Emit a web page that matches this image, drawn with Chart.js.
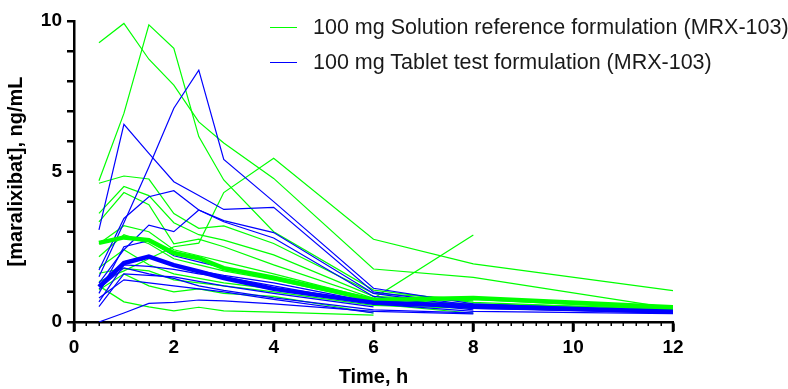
<!DOCTYPE html>
<html>
<head>
<meta charset="utf-8">
<script src="https://cdn.jsdelivr.net/npm/chart.js@4.4.1/dist/chart.umd.min.js"></script>
<style>
  html, body { margin: 0; padding: 0; background: #fff; }
  #wrap { position: relative; width: 788px; height: 389px; }
  #legend { position: absolute; left: 270px; top: 10px; font-family: Arial, "Liberation Sans", sans-serif; font-size: 21.5px; color: #1a1a1a; white-space: nowrap; }
  #legend div { display: flex; align-items: center; height: 35px; }
  #legend span.sw { display: inline-block; width: 27px; height: 0; border-top: 1.3px solid; margin-right: 16px; }
</style>
</head>
<body>
<div id="wrap">
  <canvas id="pkChart" width="788" height="389"></canvas>
  <div id="legend"></div>
</div>
<script>
// sampling times (h)
const timePoints = [0.5, 1, 1.5, 2, 2.5, 3, 4, 6, 8, 12];

// individual profiles, 100 mg solution (reference)
const solutionSubjects = [
  [9.28, 9.92, 8.73, 7.87, 6.65, 5.95, 4.77, 1.76, 1.48, 0.45],
  [4.69, 6.93, 9.87, 9.09, 6.16, 4.72, 3.00, 1.06, 0.65, 0.40],
  [1.34, 1.70, 2.10, 2.50, 2.62, 4.30, 5.44, 2.75, 1.93, 1.04],
  [4.61, 4.85, 4.75, 3.60, 3.11, 3.19, 2.61, 0.95, 0.75, 0.42],
  [3.61, 4.50, 4.20, 3.30, 2.90, 2.72, 2.23, 0.85, 0.70, null],
  [3.33, 4.30, 3.90, 2.60, 2.75, 2.50, 1.90, 0.79, 2.89, null],
  [2.17, 2.90, 2.60, 2.10, 1.90, 1.70, 1.40, 0.70, 0.55, 0.38],
  [1.62, 1.78, 1.70, 1.40, 1.30, 1.20, 1.00, 0.55, 0.45, null],
  [1.06, 1.60, 1.20, 1.00, 1.10, 0.95, 0.85, 0.30, null, null],
  [1.20, 0.67, 0.50, 0.37, 0.49, 0.37, 0.33, 0.23, null, null],
  [1.80, 2.40, 1.90, 1.60, 1.45, 1.30, 1.10, 0.60, 0.29, null],
  [2.60, 3.20, 3.00, 2.40, 2.20, 2.00, 1.60, 0.75, 0.60, 0.45]
];

// individual profiles, 100 mg tablet (test)
const tabletSubjects = [
  [1.50, 3.30, 5.15, 7.10, 8.37, 5.40, 4.00, 1.12, 0.60, 0.35],
  [3.06, 6.57, 5.60, 4.66, 4.20, 3.74, 3.81, 1.00, 0.55, 0.32],
  [1.73, 3.44, 4.16, 4.36, 3.72, 3.37, 2.97, 0.95, 0.50, null],
  [1.29, 2.40, 3.22, 3.00, 3.72, 3.33, 2.79, 0.85, 0.45, 0.30],
  [0.95, 2.50, 2.70, 2.20, 2.00, 1.80, 1.50, 0.75, 0.40, null],
  [0.67, 1.90, 1.85, 1.75, 1.60, 1.50, 1.20, 0.60, 0.35, 0.28],
  [0.51, 1.60, 1.55, 1.50, 1.35, 1.20, 0.95, 0.50, null, null],
  [1.10, 1.80, 1.60, 1.45, 1.20, 1.05, 0.80, 0.40, 0.30, null],
  [0.80, 1.40, 1.30, 1.20, 1.10, 1.00, 0.75, 0.30, null, null],
  [0.00, 0.30, 0.62, 0.65, 0.73, 0.70, 0.60, 0.35, 0.27, null],
  [1.20, 2.00, 2.20, 1.90, 1.70, 1.55, 1.30, 0.65, 0.45, 0.33]
];

// geometric means
const solutionMean = [2.63, 2.81, 2.72, 2.29, 2.12, 1.79, 1.47, 0.73, 0.80, 0.49];
const tabletMean   = [1.17, 1.96, 2.17, 1.89, 1.68, 1.46, 1.10, 0.64, 0.53, 0.34];

const seriesNames = ['100 mg Solution reference formulation (MRX-103)', '100 mg Tablet test formulation (MRX-103)'];
const seriesColors = ['#00ff00', '#0000ff'];

const toPoints = vals => timePoints.map((t, i) => ({ x: t, y: vals[i] })).filter(p => p.y !== null);

const datasets = [];
datasets.push({ data: toPoints(tabletMean), borderColor: seriesColors[1], borderWidth: 4.5, order: 0 });
datasets.push({ data: toPoints(solutionMean), borderColor: seriesColors[0], borderWidth: 4.5, order: 1 });
solutionSubjects.forEach(s => datasets.push({ data: toPoints(s), borderColor: seriesColors[0], borderWidth: 1.2, order: 3 }));
tabletSubjects.forEach(s => datasets.push({ data: toPoints(s), borderColor: seriesColors[1], borderWidth: 1.2, order: 2 }));
datasets.forEach(d => { d.pointRadius = 0; d.fill = false; d.tension = 0; });

// tick marks drawn by hand: major + minor on x, every unit on y
const axisTicks = {
  id: 'axisTicks',
  afterDraw(chart) {
    const ctx = chart.ctx;
    const xs = chart.scales.x, ys = chart.scales.y;
    const base = ys.getPixelForValue(0);
    const left = xs.getPixelForValue(0);
    ctx.save();
    ctx.fillStyle = '#000';
    for (let i = 1; i < 48; i++) {
      if (i % 8 === 0) continue;
      const px = Math.round(xs.getPixelForValue(i / 4));
      ctx.fillRect(px - 0.5, base, 1.5, 4);
    }
    for (let v = 0; v <= 12; v += 2) {
      const px = Math.round(xs.getPixelForValue(v));
      ctx.fillRect(px - 1.25, base, 2.5, 10);
    }
    for (let v = 0; v <= 10; v++) {
      const py = Math.round(ys.getPixelForValue(v));
      ctx.fillRect(left - 7, py - 1, 7, 2);
    }
    ctx.restore();
  }
};

const font = { family: 'Arial, "Liberation Sans", sans-serif', size: 19, weight: 'bold' };

new Chart(document.getElementById('pkChart'), {
  type: 'line',
  data: { datasets },
  plugins: [axisTicks],
  options: {
    responsive: false, animation: false,
    layout: { padding: { left: 0, right: 115, top: 21, bottom: 0 } },
    plugins: { legend: { display: false }, tooltip: { enabled: false } },
    scales: {
      x: {
        type: 'linear', min: 0, max: 12,
        ticks: { stepSize: 2, color: '#000', font, padding: 5 },
        grid: { display: true, drawOnChartArea: false, drawTicks: true, tickLength: 9, color: 'rgba(0,0,0,0)', tickColor: '#000', tickWidth: 2.5 },
        border: { color: '#000', width: 2.5 },
        title: { display: true, text: 'Time, h', color: '#000', font: { ...font, size: 20, lineHeight: 1.1 }, padding: { top: 4, bottom: 1 } },
        afterFit: s => { s.height = 67; }
      },
      y: {
        min: 0, max: 10,
        ticks: { stepSize: 1, color: '#000', font, padding: 5, callback: v => v % 5 === 0 ? v : '' },
        grid: { display: true, drawOnChartArea: false, drawTicks: true, tickLength: 7, color: 'rgba(0,0,0,0)', tickColor: '#000', tickWidth: 2 },
        border: { color: '#000', width: 2.5 },
        title: { display: true, text: '[maralixibat], ng/mL', color: '#000', font: { ...font, size: 20 }, padding: { bottom: 4 } },
        afterFit: s => { s.width = 74; }
      }
    }
  }
});

document.getElementById('legend').innerHTML = seriesNames.map((n, i) =>
  `<div><span class="sw" style="border-color:${seriesColors[i]}"></span>${n}</div>`).join('');
</script>
</body>
</html>
